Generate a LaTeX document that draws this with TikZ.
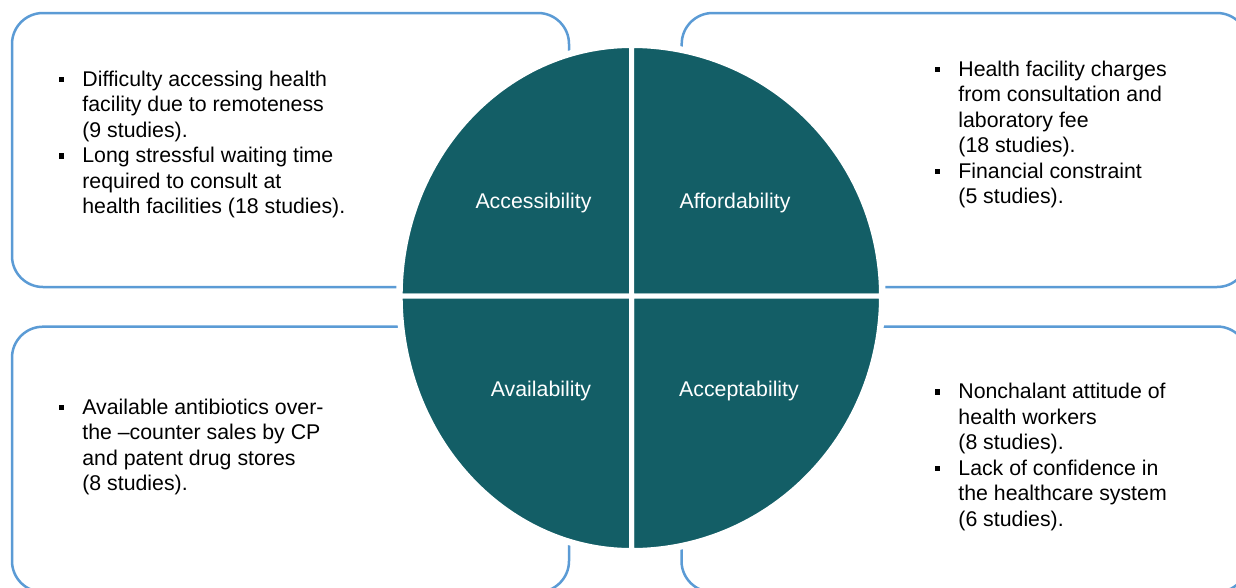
\documentclass[tikz,border=0pt]{standalone}
\usepackage{fontspec}
\setmainfont{Liberation Sans}

\definecolor{quadfill}{RGB}{19,94,102}
\definecolor{boxline}{RGB}{91,155,213}

% square bullet followed by the gap to the item text
\newcommand\itemmark{\makebox[23.7pt][l]{\rule[4pt]{5.5pt}{5.5pt}}}

\tikzset{
  panel/.style={draw=boxline, line width=2.5pt, rounded corners=31pt, fill=white},
  quad/.style={fill=quadfill, draw=white, line width=5pt, line join=miter},
  halo/.style={draw=white, line width=8pt},
  caption/.style={text=white, font=\fontsize{21.3}{25.5}\selectfont, inner sep=0pt, anchor=base},
  notes/.style={font=\fontsize{21.3}{25.5}\selectfont, inner sep=0pt, anchor=base west},
}

\begin{document}
\begin{tikzpicture}[x=1pt, y=1pt]
  \useasboundingbox (0,0) rectangle (1236,-587);
  \clip (0,0) rectangle (1236,-587);

  % four rounded panels behind the circle
  \draw[panel] (12,-13) rectangle (569,-287);
  \draw[panel] (681.7,-13) rectangle (1248,-287);
  \draw[panel] (12,-326.7) rectangle (569,-592);
  \draw[panel] (681.5,-326.5) rectangle (1248,-592);

  % circle split into four quarters
  \coordinate (c) at (631.5,-296);
  \def\rL{231.3}\def\rR{250}\def\rT{250.5}\def\rB{254.5}
  \foreach \st in {halo, quad} {
    \path[\st] (c) -- ++(-\rL,0) arc[start angle=180, end angle=90, x radius=\rL, y radius=\rT] -- cycle;
    \path[\st] (c) -- ++(0,\rT) arc[start angle=90, end angle=0, x radius=\rR, y radius=\rT] -- cycle;
    \path[\st] (c) -- ++(\rR,0) arc[start angle=0, end angle=-90, x radius=\rR, y radius=\rB] -- cycle;
    \path[\st] (c) -- ++(0,-\rB) arc[start angle=270, end angle=180, x radius=\rL, y radius=\rB] -- cycle;
  }

  % quarter captions
  \node[caption] (access) at (533.5,-208) {Accessibility};
  \node[caption] (afford) at (735,-208) {Affordability};
  \node[caption] (avail) at (541,-396) {Availability};
  \node[caption] (accept) at (739,-396) {Acceptability};

  % panel texts
  \node[notes] (accessnotes) at (58.5,-86) {\begin{tabular}[t]{@{}l@{}l@{}}
    \itemmark & Difficulty accessing health\\
     & facility due to remoteness\\
     & (9 studies).\\
    \itemmark & Long stressful waiting time\\
     & required to consult at\\
     & health facilities (18 studies).
  \end{tabular}};

  \node[notes] (affordnotes) at (934.5,-76) {\begin{tabular}[t]{@{}l@{}l@{}}
    \itemmark & Health facility charges\\
     & from consultation and\\
     & laboratory fee\\
     & (18 studies).\\
    \itemmark & Financial constraint\\
     & (5 studies).
  \end{tabular}};

  \node[notes] (availnotes) at (58.5,-414) {\begin{tabular}[t]{@{}l@{}l@{}}
    \itemmark & Available antibiotics over-\\
     & the --counter sales by CP\\
     & and patent drug stores\\
     & (8 studies).
  \end{tabular}};

  \node[notes] (acceptnotes) at (934.5,-398.5) {\begin{tabular}[t]{@{}l@{}l@{}}
    \itemmark & Nonchalant attitude of\\
     & health workers\\
     & (8 studies).\\
    \itemmark & Lack of confidence in\\
     & the healthcare system\\
     & (6 studies).
  \end{tabular}};
\end{tikzpicture}
\end{document}
